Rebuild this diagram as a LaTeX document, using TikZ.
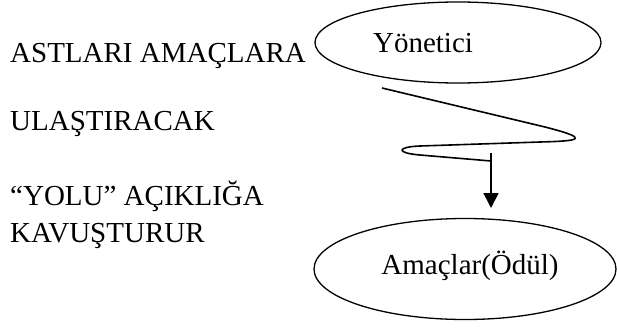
\documentclass[tikz,border=0pt]{standalone}
\usepackage{fontspec}
\setmainfont{Liberation Serif}
\usetikzlibrary{shapes.geometric,arrows.meta}
\begin{document}
\begin{tikzpicture}[x=1pt,y=-1pt,
  oval/.style={draw,ellipse,line width=1.3pt,inner sep=0pt},
  lbl/.style={font=\fontsize{29}{34}\selectfont,inner sep=0pt},
  wiggle/.style={line width=1.6pt,line join=round}]
\useasboundingbox (0,0) rectangle (617,329);
% ovals
\node[oval,minimum width=286pt,minimum height=81pt] (yon) at (458,42.5) {};
\node[oval,minimum width=302pt,minimum height=101pt] (amac) at (465,269) {};
\node[lbl] (yontxt) at (423,43) {Yönetici};
\node[lbl] (amactxt) at (470,266) {Amaçlar(Ödül)};
% left texts
\node[lbl,anchor=base west] (t1) at (10,63) {ASTLARI AMAÇLARA};
\node[lbl,anchor=base west] (t2) at (10,130) {ULAŞTIRACAK};
\node[lbl,anchor=base west] (t3) at (10,205) {“YOLU” AÇIKLIĞA};
\node[lbl,anchor=base west] (t4) at (10,242) {KAVUŞTURUR};
% wiggly line
\coordinate (w0) at (382,88);
\coordinate (w1) at (545,127);
\coordinate (w2) at (540,142);
\coordinate (w3) at (420,146);
\coordinate (w4) at (420,155);
\coordinate (w5) at (491,161);
\draw[wiggle] (w0) -- (w1) .. controls (592,139) and (580,141) .. (w2)
  -- (w3) .. controls (396,147) and (396,153) .. (w4) -- (w5);
% arrow
\coordinate (a0) at (491,153);
\coordinate (a1) at (491,208);
\draw[line width=1.6pt,-{Triangle[length=15pt,width=15pt]}] (a0) -- (a1);
\end{tikzpicture}
\end{document}
